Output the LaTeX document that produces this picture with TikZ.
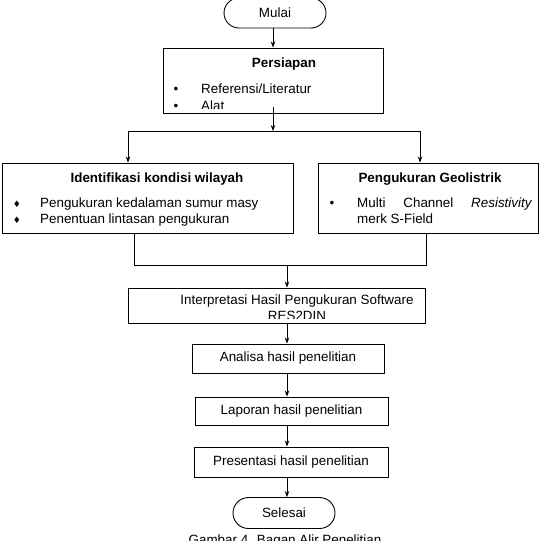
\documentclass[tikz,border=0pt]{standalone}
\usepackage{fontspec}
\setmainfont{Liberation Sans}
\newfontfamily\dejavu{DejaVu Sans}
\usetikzlibrary{calc,arrows.meta,shapes.misc}

\begin{document}
\begin{tikzpicture}[x=1pt,y=-1pt,
font=\fontsize{13.4}{16}\selectfont,
box/.style={draw,line width=0.9pt,inner sep=0pt},
ujung/.style={draw,rounded rectangle,line width=0.9pt,inner sep=0pt,minimum width=102pt},
panah/.style={line width=0.9pt,-{Stealth[length=6pt,width=4.5pt]}},
garis/.style={line width=0.9pt},
txt/.style={anchor=base,inner sep=0pt},
judul/.style={txt,font=\fontsize{13.4}{16}\selectfont\bfseries}]
\useasboundingbox (0,0) rectangle (539,541);

% kotak-kotak
\node[ujung,minimum height=30pt] (mulai) at (275,13) {Mulai};
\node[box,minimum width=220pt,minimum height=65pt] (persiapan) at (273,80.5) {};
\node[box,minimum width=291pt,minimum height=70pt] (ident) at (147.5,198) {};
\node[box,minimum width=220pt,minimum height=70pt] (geo) at (428,198) {};
\node[box,minimum width=297pt,minimum height=35pt] (interp) at (276.5,305.5) {};
\node[box,minimum width=192pt,minimum height=29pt] (analisa) at (288,358.5) {Analisa hasil penelitian};
\node[box,minimum width=193pt,minimum height=28pt] (laporan) at (291.5,411) {Laporan hasil penelitian};
\node[box,minimum width=194pt,minimum height=30pt] (presentasi) at (291,462) {Presentasi hasil penelitian};
\node[ujung,minimum height=31pt] (selesai) at (284,513) {Selesai};

% isi kotak
\begin{scope}
\clip ([yshift=5pt]persiapan.south west) rectangle (persiapan.north east);
\node[judul] (tPersiapan) at (284,67) {Persiapan};
\foreach \yy/\isi [count=\i] in {93/{Referensi/Literatur},110/Alat}
{	\node[txt] (bP\i) at (176,\yy) {\textbullet};
	\node[txt,anchor=base west] (iP\i) at (201,\yy) {\isi};
}
\end{scope}

\node[judul] (tIdent) at (157,182) {Identifikasi kondisi wilayah};
\foreach \yy/\isi [count=\i] in {207/Pengukuran kedalaman sumur masy,223/Penentuan lintasan pengukuran}
{	\node[txt] (bI\i) at (17,\yy) {\dejavu\fontsize{9}{9}\selectfont\char"2666};
	\node[txt,anchor=base west] (iI\i) at (40,\yy) {\isi};
}

\node[judul] (tGeo) at (430,182) {Pengukuran Geolistrik};
\node[txt] (bG1) at (332,207) {\textbullet};
\node[txt,anchor=base west] (iG1) at (357,207) {\makebox[175pt][s]{Multi Channel \textit{Resistivity}}};
\node[txt,anchor=base west] (iG2) at (357,223) {merk S-Field};

\begin{scope}
\clip ([yshift=5pt]interp.south west) rectangle (interp.north east);
\node[txt] (tInterp1) at (297,304) {Interpretasi Hasil Pengukuran Software};
\node[txt] (tInterp2) at (297,320) {RES2DIN};
\end{scope}

\node[txt] (caption) at (285,544) {Gambar 4. Bagan Alir Penelitian};

% garis
\coordinate (split) at (273,131);
\coordinate (splitL) at (128,131);
\coordinate (splitR) at (420,131);
\coordinate (join) at (287,265);
\coordinate (joinL) at (134,265);
\coordinate (joinR) at (426,265);

\draw[panah] (mulai.south -| split) -- (persiapan.north -| split);
\draw[panah] ([yshift=6pt]persiapan.south) -- (split);
\draw[garis] (splitL) -- (splitR);
\draw[panah] (splitL) -- (splitL |- ident.north);
\draw[panah] (splitR) -- (splitR |- geo.north);
\draw[garis] (ident.south -| joinL) -- (joinL) -- (joinR) -- (geo.south -| joinR);
\draw[panah] (join) -- (join |- interp.north);
\foreach \a/\b in {interp/analisa,analisa/laporan,laporan/presentasi,presentasi/selesai}
{	\draw[panah] (\a.south -| join) -- (\b.north -| join);
}
\end{tikzpicture}
\end{document}
